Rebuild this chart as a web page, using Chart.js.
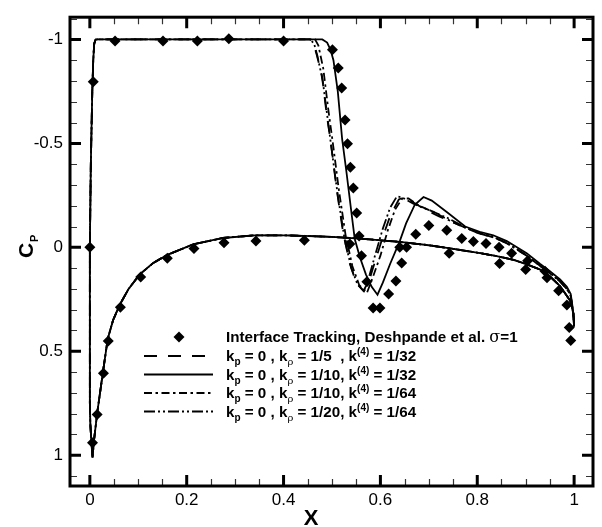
<!DOCTYPE html>
<html>
<head>
<meta charset="utf-8">
<script src="https://cdn.jsdelivr.net/npm/chart.js@4.4.1/dist/chart.umd.min.js"></script>
<style>
html,body{margin:0;padding:0;background:#fff;}
#wrap{width:602px;height:527px;}
</style>
</head>
<body>
<div id="wrap"><canvas id="c" width="602" height="527"></canvas></div>
<script>
// ---- Data ----
// Interface tracking, Deshpande et al. (diamonds)
const expX = [0.0, 0.007, 0.052, 0.151, 0.222, 0.287, 0.40,
  0.501, 0.513, 0.520, 0.527, 0.532, 0.538, 0.544, 0.551, 0.556, 0.561, 0.572, 0.585, 0.599, 0.617, 0.632, 0.644, 0.654,
  0.673, 0.700, 0.737, 0.768, 0.792, 0.818, 0.845, 0.871, 0.904, 0.940, 0.968, 0.985, 0.990, 0.993,
  0.0055, 0.015, 0.028, 0.038, 0.063, 0.105, 0.160, 0.215, 0.277, 0.343, 0.443, 0.537, 0.640, 0.742, 0.846, 0.900, 0.944];
const expY = [0.0, -0.797, -0.993, -0.993, -0.993, -1.003, -0.993,
  -0.951, -0.863, -0.766, -0.613, -0.498, -0.385, -0.286, -0.165, -0.055, 0.040, 0.165, 0.292, 0.292, 0.225, 0.162, 0.075, 0.0,
  -0.063, -0.105, -0.082, -0.042, -0.028, -0.019, 0.0, 0.028, 0.065, 0.115, 0.209, 0.277, 0.385, 0.448,
  0.940, 0.804, 0.606, 0.450, 0.288, 0.143, 0.052, 0.005, -0.022, -0.031, -0.034, -0.016, 0.0, 0.028, 0.078, 0.107, 0.146];

// Shared lower surface of the computed curves (trailing edge -> leading edge)
const lowerX = [1.0, 0.999, 0.992, 0.971, 0.95, 0.93, 0.90, 0.875, 0.84, 0.806, 0.744, 0.70, 0.64, 0.558, 0.50, 0.443, 0.40, 0.341, 0.275, 0.213, 0.16, 0.131, 0.103, 0.08, 0.062, 0.048, 0.037, 0.027, 0.015, 0.009, 0.0055];
const lowerY = [0.38, 0.32, 0.257, 0.186, 0.14, 0.107, 0.08, 0.06, 0.042, 0.028, 0.005, -0.01, -0.026, -0.042, -0.05, -0.055, -0.058, -0.058, -0.045, -0.014, 0.036, 0.075, 0.13, 0.2, 0.275, 0.35, 0.44, 0.60, 0.80, 0.92, 1.01];
// Shared leading-edge part (up to the cavity plateau)
const leX = [0.003, 0.001, 0.0, 0.0, 0.0, 0.002, 0.005, 0.007, 0.009, 0.012, 0.44];
const leY = [0.93, 0.85, 0.75, 0.3, 0.0, -0.4, -0.75, -0.9, -0.98, -1.0, -1.0];

// Cavity closure + aft upper surface, one per computed series
// k_p = 0, k_rho = 1/10, k4 = 1/32 (solid)
const solidX = [0.48, 0.49, 0.497, 0.503, 0.512, 0.521, 0.530, 0.540, 0.547, 0.558, 0.570, 0.582, 0.594, 0.605, 0.620, 0.640, 0.653, 0.671, 0.689, 0.706, 0.737, 0.775, 0.805, 0.833, 0.861, 0.902, 0.930, 0.950, 0.971, 0.985, 0.993, 0.997, 1.0];
const solidY = [-1.0, -0.985, -0.95, -0.9, -0.75, -0.52, -0.36, -0.17, -0.04, 0.05, 0.13, 0.19, 0.228, 0.17, 0.08, -0.03, -0.115, -0.205, -0.242, -0.225, -0.17, -0.10, -0.075, -0.058, -0.03, 0.028, 0.08, 0.115, 0.154, 0.19, 0.225, 0.29, 0.38];
// k_p = 0, k_rho = 1/5, k4 = 1/32 (dashed)
const dashX = [0.455, 0.462, 0.468, 0.479, 0.489, 0.499, 0.509, 0.523, 0.537, 0.550, 0.565, 0.578, 0.590, 0.605, 0.620, 0.638, 0.652, 0.665, 0.69, 0.72, 0.76, 0.80, 0.833, 0.861, 0.902, 0.930, 0.950, 0.971, 0.985, 0.993, 0.997, 1.0];
const dashY = [-1.0, -0.98, -0.93, -0.83, -0.64, -0.48, -0.29, -0.07, 0.08, 0.17, 0.21, 0.15, 0.06, -0.05, -0.15, -0.23, -0.245, -0.22, -0.185, -0.15, -0.11, -0.07, -0.048, -0.02, 0.04, 0.09, 0.125, 0.165, 0.2, 0.235, 0.3, 0.38];
// k_p = 0, k_rho = 1/10, k4 = 1/64 (dash-dot)
const dashDotX = [0.465, 0.472, 0.482, 0.492, 0.503, 0.514, 0.528, 0.542, 0.556, 0.572, 0.585, 0.600, 0.615, 0.630, 0.645, 0.658, 0.68, 0.71, 0.75, 0.80, 0.833, 0.861, 0.902, 0.930, 0.950, 0.971, 0.985, 0.993, 0.997, 1.0];
const dashDotY = [-1.0, -0.97, -0.86, -0.67, -0.48, -0.28, -0.06, 0.09, 0.18, 0.22, 0.14, 0.04, -0.08, -0.18, -0.235, -0.235, -0.20, -0.17, -0.12, -0.07, -0.048, -0.02, 0.04, 0.09, 0.125, 0.165, 0.2, 0.235, 0.3, 0.38];
// k_p = 0, k_rho = 1/20, k4 = 1/64 (dash-dot-dot)
const dashDotDotX = [0.455, 0.463, 0.470, 0.481, 0.491, 0.501, 0.512, 0.526, 0.540, 0.553, 0.566, 0.578, 0.590, 0.605, 0.620, 0.634, 0.645, 0.668, 0.70, 0.74, 0.78, 0.80, 0.833, 0.861, 0.902, 0.930, 0.950, 0.971, 0.985, 0.993, 0.997, 1.0];
const dashDotDotY = [-1.0, -0.98, -0.92, -0.80, -0.62, -0.44, -0.25, -0.04, 0.10, 0.18, 0.21, 0.13, 0.03, -0.09, -0.19, -0.245, -0.24, -0.21, -0.18, -0.14, -0.09, -0.075, -0.05, -0.022, 0.038, 0.088, 0.122, 0.162, 0.198, 0.232, 0.3, 0.38];

// Tick values
const xMajorTicks = [0, 0.2, 0.4, 0.6, 0.8, 1];
const yMajorTicks = [-1, -0.5, 0, 0.5, 1];

// ---- build datasets ----
function pts(xs, ys) { return xs.map((x, i) => ({x: x, y: ys[i]})); }
function curve(cx, cy) {
  return pts(lowerX, lowerY).concat(pts(leX, leY), pts(cx, cy));
}
function lineDs(label, cx, cy, dash) {
  return {label: label, data: curve(cx, cy), showLine: true, borderColor: '#000', backgroundColor: '#000',
    borderWidth: 1.8, borderDash: dash, pointRadius: 0, tension: 0, fill: false};
}
const DASH = [13, 11], DASHDOT = [8, 3.5, 2.5, 3.5], DASHDOTDOT = [11, 3, 2, 3, 2, 3];

const frame = {
  id: 'frame',
  afterDraw(chart) {
    const ctx = chart.ctx, a = chart.chartArea;
    const xs = chart.scales.x, ys = chart.scales.y;
    ctx.save();
    ctx.strokeStyle = '#000';
    ctx.lineCap = 'butt';
    // minor ticks
    ctx.lineWidth = 1.2; ctx.strokeStyle = '#333';
    ctx.beginPath();
    for (let i = 1; i <= 20; i++) {
      const v = i * 0.05;
      if (Math.abs(v * 5 - Math.round(v * 5)) < 1e-6) continue;
      const p = Math.round(xs.getPixelForValue(v)) + 0.5;
      ctx.moveTo(p, a.bottom); ctx.lineTo(p, a.bottom - 7);
      ctx.moveTo(p, a.top); ctx.lineTo(p, a.top + 7);
    }
    for (let i = -11; i <= 11; i++) {
      if (i % 5 === 0) continue;
      const v = i * 0.1;
      const p = Math.round(ys.getPixelForValue(v)) + 0.5;
      if (p < a.top + 2 || p > a.bottom - 2) continue;
      ctx.moveTo(a.left, p); ctx.lineTo(a.left + 7, p);
      ctx.moveTo(a.right, p); ctx.lineTo(a.right - 7, p);
    }
    ctx.stroke();
    // major ticks
    ctx.lineWidth = 3; ctx.strokeStyle = '#000';
    ctx.beginPath();
    xMajorTicks.forEach(v => {
      const p = xs.getPixelForValue(v);
      ctx.moveTo(p, a.bottom); ctx.lineTo(p, a.bottom - 11);
      ctx.moveTo(p, a.top); ctx.lineTo(p, a.top + 11);
    });
    yMajorTicks.forEach(v => {
      const p = ys.getPixelForValue(v);
      ctx.moveTo(a.left, p); ctx.lineTo(a.left + 11, p);
      ctx.moveTo(a.right, p); ctx.lineTo(a.right - 11, p);
    });
    ctx.stroke();
    // frame
    ctx.lineWidth = 3;
    ctx.strokeRect(a.left, a.top, a.right - a.left, a.bottom - a.top);

    // axis titles
    ctx.fillStyle = '#000';
    ctx.font = 'bold 22px "Liberation Sans", Arial, sans-serif';
    ctx.textAlign = 'center'; ctx.textBaseline = 'alphabetic';
    ctx.fillText('X', 311, 525);
    ctx.save();
    ctx.translate(33, 248);
    ctx.rotate(-Math.PI / 2);
    ctx.textAlign = 'left';
    ctx.font = 'bold 21px "Liberation Sans", Arial, sans-serif';
    ctx.fillText('C', -10, 0);
    ctx.font = 'bold 11px "Liberation Sans", Arial, sans-serif';
    ctx.fillText('P', 6, 5);
    ctx.restore();

    // legend
    drawLegend(ctx);
    ctx.restore();
  }
};

function drawLegend(ctx) {
  const lx0 = 144, lx1 = 213, tx = 226;
  const rowsY = [337, 356, 374.5, 393, 411.5];
  const B = 'bold 15.2px "Liberation Sans", Arial, sans-serif';
  const S = 'bold 10px "Liberation Sans", Arial, sans-serif';
  const R = '10px "DejaVu Serif", serif';
  const G = '16px "DejaVu Serif", serif';
  ctx.fillStyle = '#000'; ctx.strokeStyle = '#000';
  ctx.textAlign = 'left'; ctx.textBaseline = 'alphabetic';
  // diamond
  const dx = 179, dy = rowsY[0], r = 5.5;
  ctx.beginPath(); ctx.moveTo(dx - r, dy); ctx.lineTo(dx, dy - r); ctx.lineTo(dx + r, dy); ctx.lineTo(dx, dy + r); ctx.closePath(); ctx.fill();
  const dashes = [DASH, [], DASHDOT, DASHDOTDOT];
  for (let i = 0; i < 4; i++) {
    ctx.save(); ctx.lineWidth = 2; ctx.setLineDash(dashes[i]);
    ctx.beginPath(); ctx.moveTo(lx0, rowsY[i + 1]); ctx.lineTo(lx1, rowsY[i + 1]); ctx.stroke(); ctx.restore();
  }
  const rows = [
    [['Interface Tracking, Deshpande et al. ', B, 0], ['\u03c3', G, 0], ['=1', B, 0]],
    [['k', B, 0], ['p', S, 4], [' = 0 , k', B, 0], ['\u03c1', R, 4], [' = 1/5  , k', B, 0], ['(4)', S, -6], [' = 1/32', B, 0]],
    [['k', B, 0], ['p', S, 4], [' = 0 , k', B, 0], ['\u03c1', R, 4], [' = 1/10, k', B, 0], ['(4)', S, -6], [' = 1/32', B, 0]],
    [['k', B, 0], ['p', S, 4], [' = 0 , k', B, 0], ['\u03c1', R, 4], [' = 1/10, k', B, 0], ['(4)', S, -6], [' = 1/64', B, 0]],
    [['k', B, 0], ['p', S, 4], [' = 0 , k', B, 0], ['\u03c1', R, 4], [' = 1/20, k', B, 0], ['(4)', S, -6], [' = 1/64', B, 0]]
  ];
  rows.forEach((segs, i) => {
    let x = tx; const base = rowsY[i] + 5;
    segs.forEach(([t, f, off]) => {
      ctx.font = f;
      ctx.fillText(t, x, base + off);
      x += ctx.measureText(t).width;
    });
  });
}

const fmt = v => String(Math.round(v * 10) / 10);
const tickFont = {family: '"Liberation Sans", Arial, sans-serif', size: 17};

new Chart(document.getElementById('c'), {
  type: 'scatter',
  data: {
    datasets: [
      {label: 'Interface Tracking, Deshpande et al.', data: pts(expX, expY), showLine: false,
        pointStyle: 'rectRot', pointRadius: 5.5, pointBackgroundColor: '#000', pointBorderColor: '#000', pointBorderWidth: 0},
      lineDs('kp=0, krho=1/5, k4=1/32', dashX, dashY, DASH),
      lineDs('kp=0, krho=1/10, k4=1/32', solidX, solidY, []),
      lineDs('kp=0, krho=1/10, k4=1/64', dashDotX, dashDotY, DASHDOT),
      lineDs('kp=0, krho=1/20, k4=1/64', dashDotDotX, dashDotDotY, DASHDOTDOT)
    ]
  },
  options: {
    responsive: false, animation: false, devicePixelRatio: 1,
    layout: {padding: {top: 7, right: 9, left: 0, bottom: 0}},
    plugins: {legend: {display: false}, tooltip: {enabled: false}},
    scales: {
      x: {type: 'linear', min: -0.041, max: 1.039,
        grid: {display: false, drawTicks: false}, border: {display: false},
        ticks: {stepSize: 0.2, includeBounds: false, color: '#000', font: tickFont, padding: 4, maxRotation: 0, callback: fmt},
        afterFit: s => { s.height = 41; }},
      y: {type: 'linear', reverse: true, min: -1.107, max: 1.148,
        grid: {display: false, drawTicks: false}, border: {display: false},
        ticks: {stepSize: 0.5, includeBounds: false, color: '#000', font: tickFont, padding: 7, callback: fmt},
        afterFit: s => { s.width = 70; }}
    }
  },
  plugins: [frame]
});
</script>
</body>
</html>
